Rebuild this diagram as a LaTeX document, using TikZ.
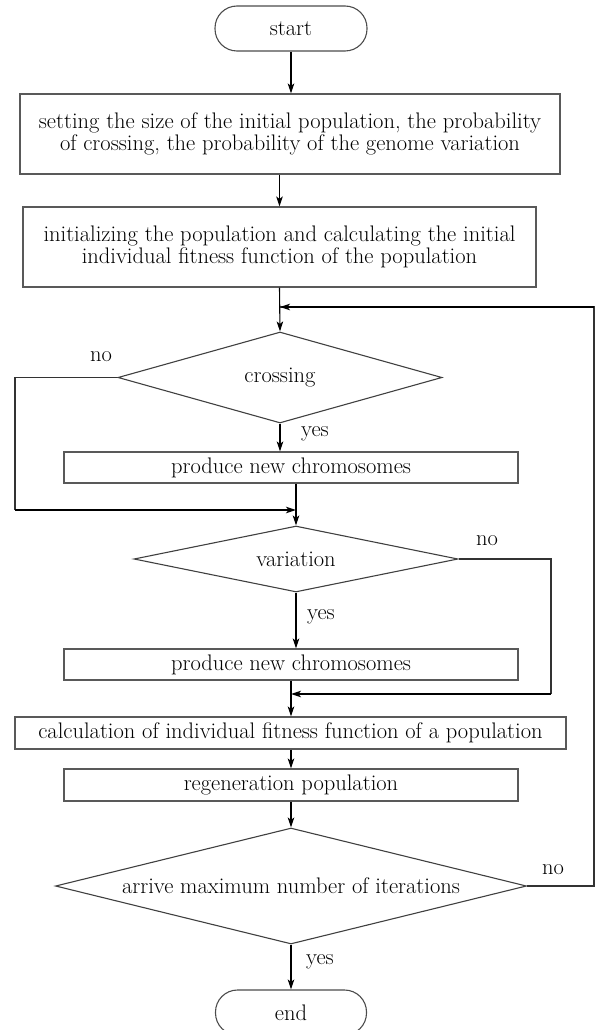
\documentclass[tikz,border=0pt]{standalone}
\usepackage{fontspec}
\usetikzlibrary{shapes.geometric,arrows.meta,calc}
\begin{document}
\begin{tikzpicture}[x=1pt,y=-1pt,
  font=\fontsize{22.5}{22}\selectfont,
  box/.style={draw=black!65, line width=1.1pt, rectangle, inner sep=0pt, align=center},
  term/.style={draw=black!70, line width=1.1pt, rectangle, rounded corners=22pt, inner sep=0pt},
  dec/.style={draw=black!75, line width=1.1pt, diamond, inner sep=0pt, aspect=3},
  arr/.style={draw=black, line width=1.1pt, -{Stealth[length=10pt,width=6.5pt,inset=2.5pt]}},
  conn/.style={draw=black!80, line width=1.1pt},
  lab/.style={inner sep=0pt}]
\useasboundingbox (0,0) rectangle (600,1030);
\clip (0,0) rectangle (600,1030);

% nodes
\node[term, minimum width=152pt, minimum height=45pt] (start) at (291,28.5) {start};
\node[box, minimum width=540pt, minimum height=80pt] (b1) at (290,134)
  {setting the size of the initial population, the probability\\of crossing, the probability of the genome variation};
\node[box, minimum width=513pt, minimum height=80pt] (b2) at (279.5,247)
  {initializing the population and calculating the initial\\individual fitness function of the population};
\node[dec, minimum width=324pt, minimum height=91pt] (cross) at (280,377.5) {crossing};
\node[box, minimum width=454pt, minimum height=31pt] (b3) at (291,467.5) {produce new chromosomes};
\node[dec, minimum width=324pt, minimum height=66pt] (var) at (296,559) {variation};
\node[box, minimum width=454pt, minimum height=31pt] (b4) at (291,664.5) {produce new chromosomes};
\node[box, minimum width=551pt, minimum height=32pt] (b5) at (290.5,733) {calculation of individual fitness function of a population};
\node[box, minimum width=454pt, minimum height=32pt] (b6) at (291,785) {regeneration population};
\node[dec, aspect=4.06, minimum width=471pt, minimum height=116pt] (iter) at (291,886) {arrive maximum number of iterations};
\node[term, minimum width=151pt, minimum height=45pt] (end) at (291,1012.5) {end};

% labels
\node[lab] (no1) at (101,357) {no};
\node[lab] (yes1) at (315,434) {yes};
\node[lab] (no2) at (487,541) {no};
\node[lab] (yes2) at (321,617) {yes};
\node[lab] (no3) at (553,870) {no};
\node[lab] (yes3) at (320,962) {yes};

% coordinates for joins
\coordinate (j1) at (280,307);
\coordinate (r1) at (594,886);
\coordinate (j2) at (296,510);
\coordinate (l2) at (15,377.5);
\coordinate (j3) at (291,694);
\coordinate (r3) at (551,559);

% connectors
\draw[arr] (start.south) -- (start.south |- b1.north);
\draw[arr] (b2.north |- b1.south) -- (b2.north);
\draw[arr] (b2.south) -- (cross.north);
\draw[arr] (cross.south) -- (cross.south |- b3.north);
\draw[arr] (var.north |- b3.south) -- (var.north);
\draw[arr] (var.south) -- (var.south |- b4.north);
\draw[arr] (b4.south) -- (b5.north -| b4.south);
\draw[arr] (b6.north |- b5.south) -- (b6.north);
\draw[arr] (b6.south) -- (iter.north);
\draw[arr] (iter.south) -- (end.north);

% loops
\draw[conn] (iter.east) -- (r1) -- (r1 |- j1) -- (j1);
\draw[arr] (r1 |- j1) -- (j1);
\draw[conn] (cross.west) -- (l2) -- (l2 |- j2);
\draw[arr] (l2 |- j2) -- (j2);
\draw[conn] (var.east) -- (r3) -- (r3 |- j3);
\draw[arr] (r3 |- j3) -- (j3);
\end{tikzpicture}
\end{document}
